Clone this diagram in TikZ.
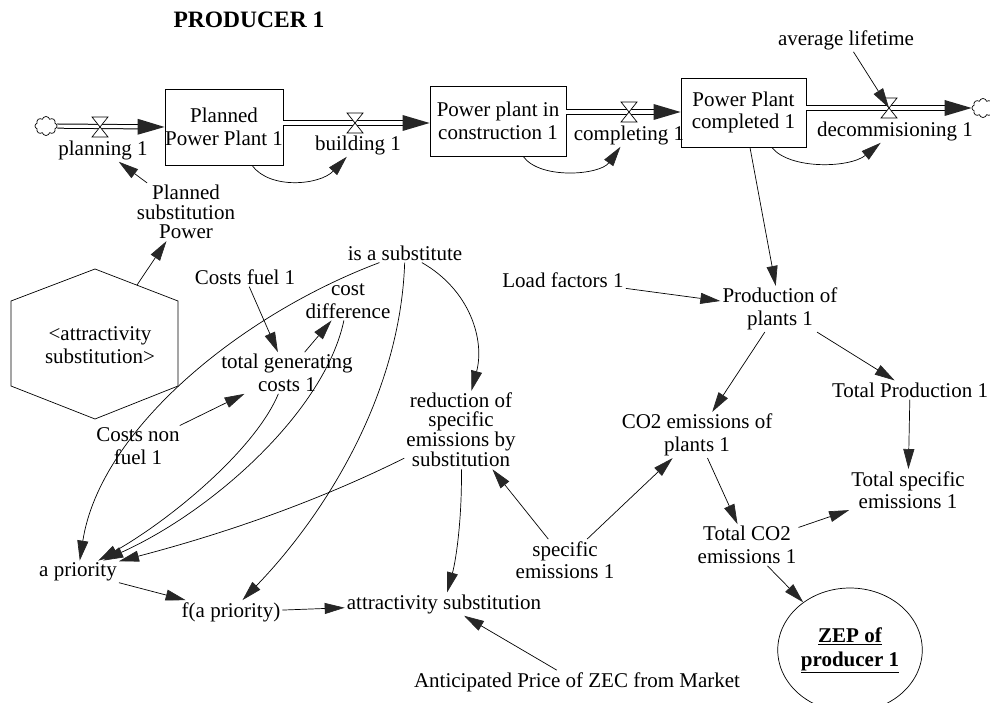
\documentclass[tikz,border=0pt]{standalone}
\usepackage{fontspec}
\setmainfont{Liberation Serif}
\usetikzlibrary{arrows.meta,shapes.symbols,shapes.geometric,decorations.markings}

\begin{document}
\begin{tikzpicture}[
        x=1pt, y=-1pt,
        every node/.style={font=\fontsize{21}{22.5}\selectfont, align=center, inner sep=2pt},
        stock/.style={draw, rectangle, inner sep=0pt, line width=0.8pt},
        link/.style={line width=0.7pt, -{Triangle[length=20pt, width=11pt, color=black!85]}},
        pipe/.style={double, double distance=3.2pt, line width=1pt, shorten >=20pt,
            postaction={decorate, decoration={markings,
                mark=at position 1 with {\fill[black!85] (-27pt,-8pt) -- (0pt,0pt) -- (-27pt,8pt) -- cycle;}}}},
        source/.style={draw, cloud, cloud puffs=8, minimum width=22pt, minimum height=19pt, inner sep=0pt, line width=0.7pt},
        valve/.pic={\draw[line width=0.7pt, fill=white] (-8,-10) -- (8,-10) -- (-8,10) -- (8,10) -- cycle;}
    ]
    \useasboundingbox (0,0) rectangle (990,703);

    % Title
    \node[font=\fontsize{23.5}{26}\selectfont\bfseries] (title) at (249,20) {PRODUCER 1};

    % Stocks and their flows
    \node[source] (srcL) at (46,126) {};
    \node[stock, minimum width=118pt, minimum height=76pt] (ppp) at (224,127) {Planned\\Power Plant 1};
    \node[stock, minimum width=136pt, minimum height=70pt] (ppc) at (498,121) {Power plant in\\construction 1};
    \node[stock, minimum width=125pt, minimum height=69pt] (ppd) at (743.5,112.5) {Power Plant\\completed 1};
    \node[source] (srcR) at (983,108) {};

    \coordinate (vplan) at (100,127);
    \coordinate (vbuild) at (355,123);
    \coordinate (vcomp) at (629,112);
    \coordinate (vdec) at (889,108);

    \draw[pipe] (srcL) -- (ppp.west);
    \draw[pipe] (ppp.east |- vbuild) -- (ppc.west |- vbuild);
    \draw[pipe] (ppc.east |- vcomp) -- (ppd.west |- vcomp);
    \draw[pipe] (ppd.east |- vdec) -- (srcR);

    \pic at (vplan) {valve};
    \pic at (vbuild) {valve};
    \pic at (vcomp) {valve};
    \pic at (vdec) {valve};

    \node (planning) at (103,150) {planning 1};
    \node (building) at (358,145) {building 1};
    \node (completing) at (629,135) {completing 1};
    \node (decomm) at (895,131) {decommisioning 1};
    \node (avglife) at (846,40) {average lifetime};

    % Variables
    \node[font=\fontsize{21}{19.5}\selectfont] (plsubst) at (186,212) {Planned\\substitution\\Power};
    \node (attrhex) at (100,345) {<attractivity\\substitution>};
    \draw[line width=0.7pt] (95,269) -- (178,301) -- (178,386) -- (95,419) -- (11,386) -- (11,301) -- cycle;
    \coordinate (hexout) at (137,285);

    \node (issubst) at (405,253) {is a substitute};
    \node (costsfuel) at (245,277) {Costs fuel 1};
    \node (costdiff) at (348,301) {cost\\difference};
    \node (totgen) at (287,373) {total generating\\costs 1};
    \node (costsnonfuel) at (138,446) {Costs non\\fuel 1};
    \node[font=\fontsize{21}{19}\selectfont] (reduction) at (461,430) {reduction of\\specific\\emissions by\\substitution};
    \node (loadf) at (563,280) {Load factors 1};
    \node (prod) at (780,309) {Production of\\plants 1};
    \node (totprod) at (910,390) {Total Production 1};
    \node (co2plants) at (697,435) {CO2 emissions of\\plants 1};
    \node (totspec) at (908,490) {Total specific\\emissions 1};
    \node (totco2) at (747,545) {Total CO2\\emissions 1};
    \node (specem) at (565,560) {specific\\emissions 1};
    \node (apriori) at (78,572) {a priority};
    \node (fapriori) at (231,612) {f(a priority)};
    \node (attrsubst) at (444,604) {attractivity substitution};
    \node (antprice) at (577,682) {Anticipated Price of ZEC from Market};
    \node[draw, ellipse, line width=0.7pt, minimum width=134pt, minimum height=124pt,
          font=\fontsize{21}{24}\selectfont\bfseries] (zep) at (850,650) {\underline{ZEP of}\\\underline{producer 1}};

    % Links from stocks to flows
    \draw[link] (ppp) .. controls (270,190) and (320,185) .. (building);
    \draw[link] (ppc) .. controls (540,180) and (600,175) .. (completing);
    \draw[link] (ppd) .. controls (790,170) and (850,168) .. (decomm);
    \draw[link] (avglife) -- (vdec);
    \draw[link] (plsubst) -- (planning);
    \draw[link] (hexout) -- (plsubst);

    % Cost side
    \draw[link] (costsfuel) -- (totgen);
    \draw[link] (totgen) -- (costdiff);
    \draw[link] (costsnonfuel) -- (totgen);
    \draw[link] (issubst) .. controls (240,315) and (100,430) .. (apriori);
    \draw[link] (totgen) .. controls (255,450) and (170,520) .. (apriori);
    \draw[link] (costdiff) .. controls (325,410) and (215,510) .. (apriori);
    \draw[link] (reduction) .. controls (300,510) and (200,540) .. (apriori);
    \draw[link] (issubst) .. controls (400,400) and (320,520) .. (fapriori);
    \draw[link] (issubst) .. controls (470,290) and (485,340) .. (reduction);
    \draw[link] (reduction) .. controls (462,520) and (456,560) .. (attrsubst);
    \draw[link] (apriori) -- (fapriori);
    \draw[link] (fapriori) -- (attrsubst);
    \draw[link] (antprice) -- (attrsubst);

    % Production and emissions
    \draw[link] (ppd) -- (prod);
    \draw[link] (loadf) -- (prod);
    \draw[link] (prod) -- (co2plants);
    \draw[link] (prod) -- (totprod);
    \draw[link] (totprod) -- (totspec);
    \draw[link] (specem) -- (reduction);
    \draw[link] (specem) -- (co2plants);
    \draw[link] (co2plants) -- (totco2);
    \draw[link] (totco2) -- (totspec);
    \draw[link] (totco2) -- (zep);

\end{tikzpicture}
\end{document}
